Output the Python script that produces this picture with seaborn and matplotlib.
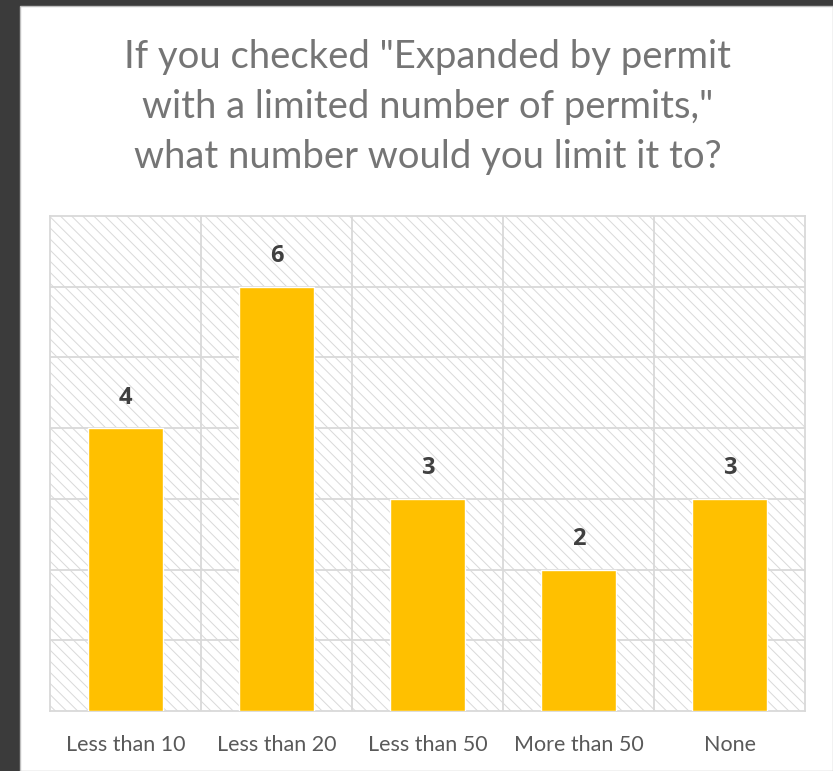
import matplotlib.pyplot as plt
import matplotlib.patches as mpatches
import seaborn as sns
import pandas as pd

# data
categories = ["Less than 10", "Less than 20", "Less than 50", "More than 50", "None"]
counts = [4, 6, 3, 2, 3]
title_lines = ['If you checked "Expanded by permit',
               'with a limited number of permits,"',
               'what number would you limit it to?']

sns.set_style("white")
plt.rcParams['font.family'] = ['Lato', 'DejaVu Sans']

df = pd.DataFrame({"cat": categories, "n": counts})

fig = plt.figure(figsize=(8.33, 7.71), dpi=100, facecolor="#3b3b3b")
# white slide area
fig.add_artist(mpatches.Rectangle((20 / 833, 0), 1 - 20 / 833, 1 - 6 / 771,
                                  transform=fig.transFigure, facecolor="white",
                                  edgecolor="#bfbfbf", linewidth=1, zorder=0))

ax = fig.add_axes([50 / 833, 60 / 771, 755 / 833, 495 / 771])
ax.set_facecolor("white")

# hatched plot area
plt.rcParams['hatch.linewidth'] = 0.7
ax.add_patch(mpatches.Rectangle((0, 0), 1, 1, transform=ax.transAxes,
                                facecolor="white", edgecolor="#d9d9d9",
                                hatch="\\\\\\", linewidth=0, zorder=0))

sns.barplot(data=df, x="cat", y="n", color="#FFC000", width=0.5,
            saturation=1, ax=ax, zorder=3)

ax.set_ylim(0, 7)
ax.set_xlim(-0.5, len(categories) - 0.5)
for y in range(1, 7):
    ax.axhline(y, color="#d9d9d9", linewidth=1.3, zorder=1)
for x in range(1, len(categories)):
    ax.axvline(x - 0.5, color="#d9d9d9", linewidth=1.3, zorder=1)

for s in ax.spines.values():
    s.set_color("#d9d9d9")
    s.set_linewidth(1.3)
    s.set_visible(True)

ax.set_yticks([])
ax.set_xlabel("")
ax.set_ylabel("")
ax.tick_params(axis="x", length=0, pad=17, labelsize=15.5, labelcolor="#595959")

for i, v in enumerate(counts):
    ax.annotate(str(v), (i, v), xytext=(0, 22), textcoords="offset points",
                ha="center", va="center", fontsize=17, fontweight="bold",
                family=["Open Sans", "DejaVu Sans"], color="#404040")

for k, line in enumerate(title_lines):
    fig.text(0.513, (771 - 57 - 50 * k) / 771, line, ha="center", va="center",
             fontsize=27.5, color="#757575")

fig.savefig("out.png", dpi=100, facecolor=fig.get_facecolor())
